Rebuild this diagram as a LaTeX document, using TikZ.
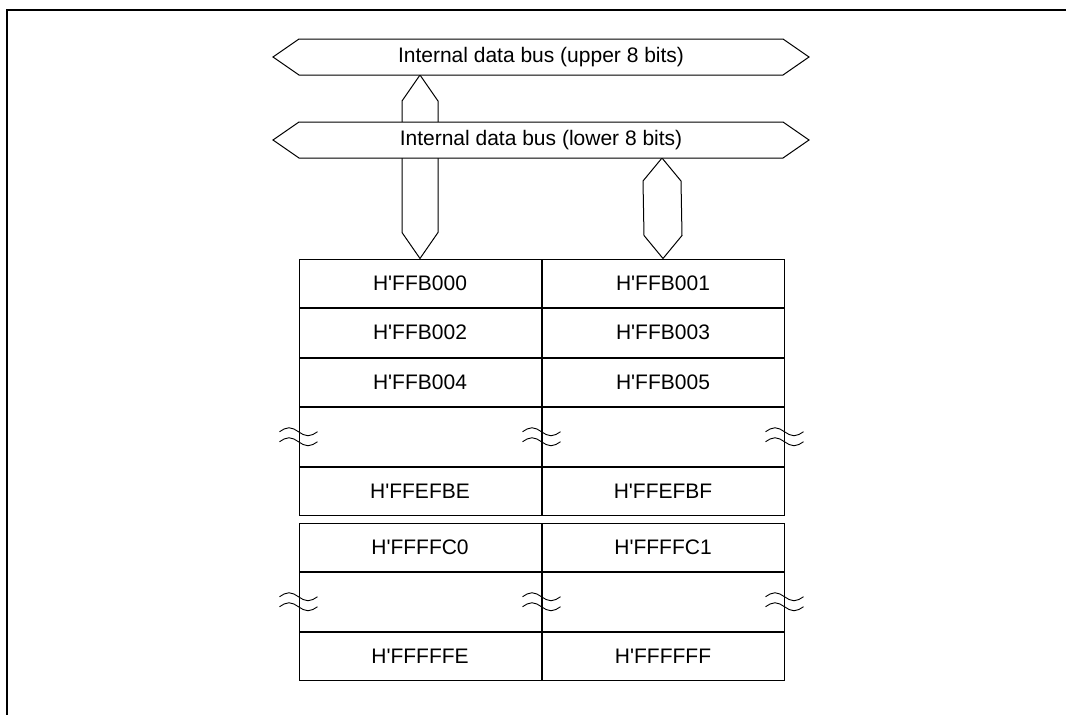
\documentclass[tikz,border=0pt]{standalone}
\usepackage{fontspec}
\setmainfont{Liberation Sans}
\usepackage{tikz}
\usetikzlibrary{positioning,calc}

\newcommand{\squiggle}[1]{%
  \draw[wave] ($(#1)+(-19,-5)$) sin ++(9.5,-4) cos ++(9.5,4) sin ++(9.5,4) cos ++(9.5,-4);
  \draw[wave] ($(#1)+(-19,5)$) sin ++(9.5,-4) cos ++(9.5,4) sin ++(9.5,4) cos ++(9.5,-4);
}
\newcommand{\hq}{H\textquotesingle}

\begin{document}
\begin{tikzpicture}[
    x=1pt, y=-1pt,
    every node/.style={
        font=\fontsize{21}{25}\selectfont,
        inner sep=0pt
    },
    cell/.style={
        draw,
        line width=1pt,
        minimum width=242pt,
        minimum height=48.5pt
    },
    gapcell/.style={
        cell,
        minimum height=58.5pt
    },
    busline/.style={
        draw,
        fill=white,
        line width=1pt,
        line join=miter
    },
    wave/.style={
        line width=0.9pt
    }
]

\useasboundingbox (0,0) rectangle (1066,715);
\draw[line width=2.5pt] (7,715) -- (7,10) -- (1066,10);

% memory map, first block
\node[cell] (c00) at (420,283.25) {\hq FFB000};
\node[cell, right=0pt of c00] (c01) {\hq FFB001};
\node[cell, below=0pt of c00] (c10) {\hq FFB002};
\node[cell, below=0pt of c01] (c11) {\hq FFB003};
\node[cell, below=0pt of c10] (c20) {\hq FFB004};
\node[cell, below=0pt of c11] (c21) {\hq FFB005};
\node[gapcell, below=0pt of c20] (c30) {};
\node[gapcell, below=0pt of c21] (c31) {};
\node[cell, below=0pt of c30] (c40) {\hq FFEFBE};
\node[cell, below=0pt of c31] (c41) {\hq FFEFBF};

% memory map, second block
\node[cell] (d00) at (420,547.25) {\hq FFFFC0};
\node[cell, right=0pt of d00] (d01) {\hq FFFFC1};
\node[gapcell, below=0pt of d00] (d10) {};
\node[gapcell, below=0pt of d01] (d11) {};
\node[cell, below=0pt of d10] (d20) {\hq FFFFFE};
\node[cell, below=0pt of d11] (d21) {\hq FFFFFF};

\foreach \a in {c30.west, c30.east, c31.east, d10.west, d10.east, d11.east}
    \squiggle{\a};

% buses
\coordinate (uptip) at (420,75);
\coordinate (lowtip) at (662,158);

\draw[busline] (uptip) -- ++(18,26) -- ($(c00.north)+(18,-26)$) -- (c00.north)
    -- ++(-18,-26) -- ($(uptip)+(-18,26)$) -- cycle;
\draw[busline] (lowtip) -- ++(19,23) -- ($(c01.north)+(19,-23)$) -- (c01.north)
    -- ++(-19,-23) -- ($(lowtip)+(-19,23)$) -- cycle;

\draw[busline] (273,57) -- (299,39) -- (783,39) -- (809,57) -- (783,75) -- (299,75) -- cycle;
\draw[busline] (273,140) -- (299,122) -- (783,122) -- (809,140) -- (783,158) -- (299,158) -- cycle;

\node (upbus) at (541,57) {Internal data bus (upper 8 bits)};
\node (lowbus) at (541,140) {Internal data bus (lower 8 bits)};

\end{tikzpicture}
\end{document}
